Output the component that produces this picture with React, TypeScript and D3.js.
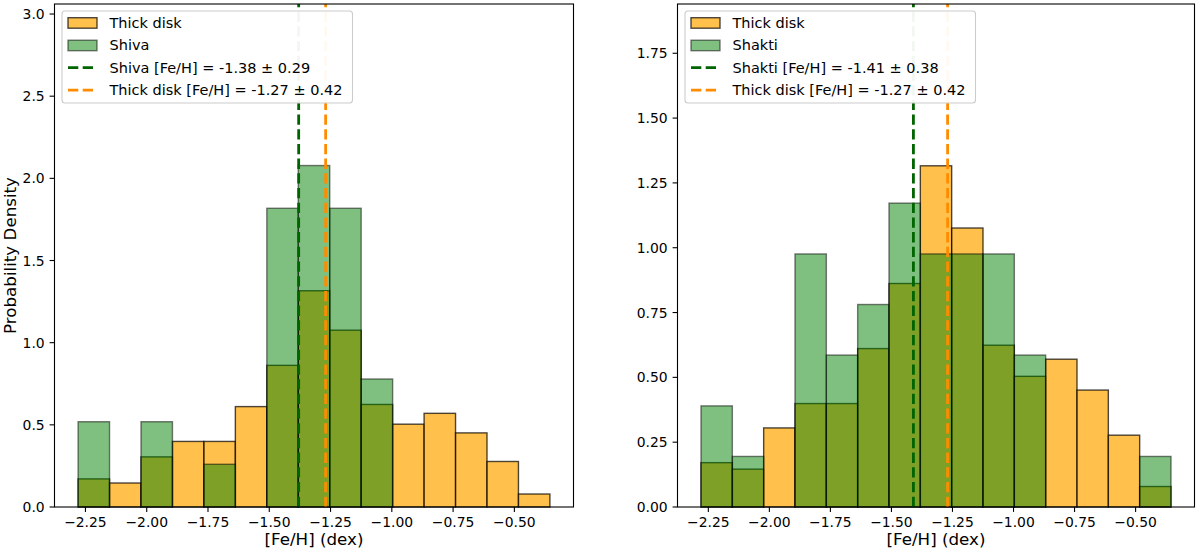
import React from 'react';
import * as d3 from 'd3';

// shared binning of [Fe/H] for both samples
const binRange = [-2.28, -0.355];
const binCount = 15;

// probability density per bin
const thickDisk = [0.171, 0.146, 0.305, 0.399, 0.399, 0.611, 0.862, 1.316, 1.076, 0.624, 0.504, 0.570, 0.451, 0.277, 0.079];
const shiva = [0.519, 0, 0.519, 0, 0.260, 0, 1.818, 2.078, 1.818, 0.779, 0, 0, 0, 0, 0];
const shakti = [0.390, 0.195, 0, 0.976, 0.586, 0.781, 1.172, 0.976, 0.976, 0.976, 0.586, 0, 0, 0, 0.195];

// mean and spread of each sample
const thickDiskStats = [-1.27, 0.42];
const shivaStats = [-1.38, 0.29];
const shaktiStats = [-1.41, 0.38];

const xTicks = [-2.25, -2.0, -1.75, -1.5, -1.25, -1.0, -0.75, -0.5];
const shivaYTicks = [0, 0.5, 1.0, 1.5, 2.0, 2.5, 3.0];
const shaktiYTicks = [0, 0.25, 0.5, 0.75, 1.0, 1.25, 1.5, 1.75];

const W = 1200;
const H = 552;
const TOP = 4;
const BOTTOM = 507;
const FONT = "'DejaVu Sans', sans-serif";
const TICK_FS = 13.9;
const LEGEND_FS = 14.5;
const LABEL_FS = 16.7;

type PanelProps = {
  x0: number;
  x1: number;
  yMax: number;
  yTicks: number[];
  yFmt: (n: number) => string;
  group: number[];
  groupName: string;
  groupStats: number[];
  yLabel?: string;
};

function Bars({ values, x, y, edges, fill, alpha }: any) {
  return (
    <g>
      {values.map((v: number, i: number) =>
        v > 0 ? (
          <rect
            key={i}
            x={x(edges[i])}
            y={y(v)}
            width={x(edges[i + 1]) - x(edges[i])}
            height={y(0) - y(v)}
            fill={fill}
            fillOpacity={alpha}
            stroke="#000"
            strokeOpacity={alpha}
            strokeWidth={1.4}
          />
        ) : null
      )}
    </g>
  );
}

function Panel({ x0, x1, yMax, yTicks, yFmt, group, groupName, groupStats, yLabel }: PanelProps) {
  const [lo, hi] = binRange;
  const span = hi - lo;
  const edges = d3.range(binCount + 1).map(i => lo + (span * i) / binCount);
  const x = d3.scaleLinear().domain([lo - 0.05 * span, hi + 0.05 * span]).range([x0, x1]);
  const y = d3.scaleLinear().domain([0, yMax]).range([BOTTOM, TOP]);
  const xFmt = d3.format('.2f');

  const dash = '10.3 4.4';
  const lx = x0 + 7.5;
  const ly = TOP + 7;
  const rowY = (i: number) => ly + 11.7 + i * 22.5;
  const legendItems = [
    { kind: 'patch', fill: '#FFA500', alpha: 0.7, label: 'Thick disk' },
    { kind: 'patch', fill: '#008000', alpha: 0.5, label: groupName },
    { kind: 'line', color: '#006400', label: `${groupName} [Fe/H] = ${groupStats[0].toFixed(2)} ± ${groupStats[1].toFixed(2)}` },
    { kind: 'line', color: '#FF8C00', label: `Thick disk [Fe/H] = ${thickDiskStats[0].toFixed(2)} ± ${thickDiskStats[1].toFixed(2)}` },
  ];

  return (
    <g fontFamily={FONT}>
      <Bars values={thickDisk} x={x} y={y} edges={edges} fill="#FFA500" alpha={0.7} />
      <Bars values={group} x={x} y={y} edges={edges} fill="#008000" alpha={0.5} />

      {/* mean lines */}
      <line x1={x(groupStats[0])} x2={x(groupStats[0])} y1={BOTTOM} y2={TOP}
        stroke="#006400" strokeWidth={2.8} strokeDasharray={dash} />
      <line x1={x(thickDiskStats[0])} x2={x(thickDiskStats[0])} y1={BOTTOM} y2={TOP}
        stroke="#FF8C00" strokeWidth={2.8} strokeDasharray={dash} />

      {/* frame */}
      <rect x={x0} y={TOP} width={x1 - x0} height={BOTTOM - TOP} fill="none" stroke="#000" strokeWidth={1.1} />

      {/* x axis */}
      {xTicks.map(t => (
        <g key={t}>
          <line x1={x(t)} x2={x(t)} y1={BOTTOM} y2={BOTTOM + 4.9} stroke="#000" strokeWidth={1.1} />
          <text x={x(t)} y={BOTTOM + 19.5} fontSize={TICK_FS} textAnchor="middle" fill="#000">{xFmt(t)}</text>
        </g>
      ))}
      <text x={(x0 + x1) / 2} y={545} fontSize={LABEL_FS} textAnchor="middle" fill="#000">[Fe/H] (dex)</text>

      {/* y axis */}
      {yTicks.map(t => (
        <g key={t}>
          <line x1={x0 - 4.9} x2={x0} y1={y(t)} y2={y(t)} stroke="#000" strokeWidth={1.1} />
          <text x={x0 - 9.8} y={y(t) + 5} fontSize={TICK_FS} textAnchor="end" fill="#000">{yFmt(t)}</text>
        </g>
      ))}
      {yLabel && (
        <text transform={`translate(16,${(TOP + BOTTOM) / 2}) rotate(-90)`} fontSize={LABEL_FS} textAnchor="middle" fill="#000">
          {yLabel}
        </text>
      )}

      {/* legend */}
      <rect x={lx} y={ly} width={290.5} height={92} rx={3} fill="#fff" fillOpacity={0.95} stroke="#cccccc" strokeWidth={1.1} />
      {legendItems.map((d, i) => (
        <g key={i}>
          {d.kind === 'patch' ? (
            <rect x={lx + 6} y={rowY(i) - 5} width={29} height={10.5} fill={d.fill} fillOpacity={d.alpha}
              stroke="#000" strokeOpacity={d.alpha} strokeWidth={1.4} />
          ) : (
            <line x1={lx + 6} x2={lx + 35} y1={rowY(i)} y2={rowY(i)} stroke={d.color} strokeWidth={2.8} strokeDasharray={dash} />
          )}
          <text x={lx + 47.5} y={rowY(i) + 5.2} fontSize={LEGEND_FS} fill="#000">{d.label}</text>
        </g>
      ))}
    </g>
  );
}

export default function App() {
  return (
    <svg width={W} height={H} style={{ position: 'fixed', left: 0, top: 0, display: 'block', background: '#fff' }}>
      <rect width={W} height={H} fill="#fff" />
      <Panel x0={54.5} x1={573.5} yMax={3.061} yTicks={shivaYTicks} yFmt={d3.format('.1f')}
        group={shiva} groupName="Shiva" groupStats={shivaStats} yLabel="Probability Density" />
      <Panel x0={677.5} x1={1194.5} yMax={1.94} yTicks={shaktiYTicks} yFmt={d3.format('.2f')}
        group={shakti} groupName="Shakti" groupStats={shaktiStats} />
    </svg>
  );
}
